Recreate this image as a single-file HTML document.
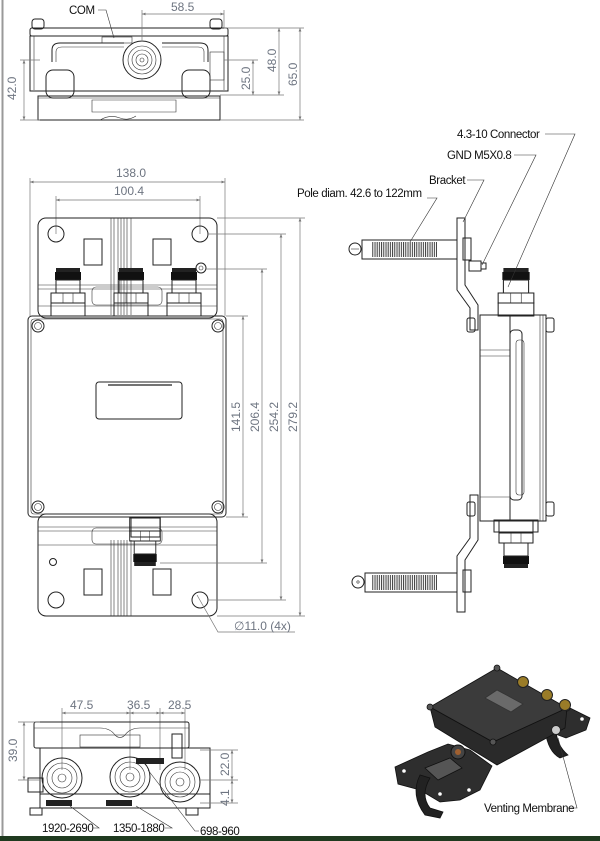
<!DOCTYPE html>
<html><head><meta charset="utf-8"><style>
html,body{margin:0;padding:0;background:#fff;}
svg{display:block;}
.l{fill:none;stroke:#222;stroke-width:1}
.t{fill:none;stroke:#333;stroke-width:0.6}
.d{fill:none;stroke:#777;stroke-width:0.7}
.dt{font-family:"Liberation Sans",sans-serif;font-size:12px;fill:#6d7480}
.lt{font-family:"Liberation Sans",sans-serif;font-size:11.5px;fill:#111;letter-spacing:-0.4px}
</style></head><body>
<svg width="600" height="841" viewBox="0 0 600 841" xmlns="http://www.w3.org/2000/svg">
<defs>
<marker id="a" viewBox="0 0 10 10" refX="10" refY="5" markerWidth="7" markerHeight="5" orient="auto-start-reverse"><path d="M0,1 L10,5 L0,9 z" fill="#777"/></marker>
<pattern id="h" width="2.2" height="4" patternUnits="userSpaceOnUse"><line x1="1" y1="0" x2="1" y2="4" stroke="#222" stroke-width="0.9"/></pattern>
<g id="conn">
<rect x="-12" y="0" width="24" height="4" fill="#222"/>
<rect x="-13" y="4" width="26" height="8" fill="#111"/>
<rect x="-12" y="12" width="24" height="13" class="l" fill="#fff"/>
<rect x="-17" y="25" width="34" height="10" class="l" fill="#fff"/>
<line x1="-5" y1="25" x2="-5" y2="35" class="t"/><line x1="5" y1="25" x2="5" y2="35" class="t"/>
<rect x="-17" y="35" width="34" height="13" class="l" fill="#fff"/>
</g>
</defs>
<line x1="2.5" y1="0" x2="2.5" y2="836" stroke="#999" stroke-width="2"/>
<rect x="0" y="836" width="600" height="5" fill="#1f3a1f"/>

<!-- TOP VIEW -->
<rect x="32" y="19" width="12" height="10" rx="3" class="l"/>
<rect x="210" y="19" width="12" height="10" rx="3" class="l"/>
<rect x="30" y="28" width="198" height="8" rx="2" class="l" stroke-width="1.4"/>
<rect x="30" y="36" width="198" height="55" class="l"/>
<line x1="34" y1="36" x2="34" y2="90" class="t"/><line x1="224" y1="36" x2="224" y2="90" class="t"/>
<rect x="102" y="37" width="30" height="6" class="t"/>
<path d="M52,62 V50 Q52,43 60,43 H124 M162,43 H200 Q208,43 208,50 V62" class="l"/>
<path d="M56,62 V52 Q56,47 62,47 H124 M162,47 H198 Q204,47 204,52 V62" class="t"/>
<rect x="46" y="70" width="28" height="28" rx="7" class="l"/>
<rect x="182" y="70" width="28" height="28" rx="7" class="l"/>
<rect x="210" y="52" width="14" height="28" class="t"/>
<circle cx="142" cy="60" r="19" class="l" stroke-width="1.3"/>
<circle cx="142" cy="60" r="14" class="t"/><circle cx="142" cy="60" r="10" class="t"/><circle cx="142" cy="60" r="6" class="t"/><circle cx="142" cy="60" r="2" class="t"/>
<rect x="38" y="96" width="182" height="24" class="l"/>
<line x1="38" y1="98" x2="220" y2="98" class="t"/>
<path d="M92,100 H176 V112 H92 Z" class="t"/>
<path d="M100,120 Q110,114 120,118 Q128,121 136,116" class="t"/>
<text x="69" y="14" class="lt">COM</text>
<path d="M98,10 H106 L114,38" class="t" stroke="#111"/>
<line x1="142" y1="40" x2="142" y2="10" class="d"/><line x1="224" y1="28" x2="224" y2="10" class="d"/>
<line x1="142" y1="14" x2="224" y2="14" class="d" marker-start="url(#a)" marker-end="url(#a)"/>
<text x="171" y="11" class="dt">58.5</text>
<line x1="20" y1="60" x2="40" y2="60" class="d"/><line x1="20" y1="120" x2="40" y2="120" class="d"/>
<line x1="24" y1="60" x2="24" y2="120" class="d" marker-start="url(#a)" marker-end="url(#a)"/>
<text transform="translate(16,100) rotate(-90)" class="dt">42.0</text>
<line x1="224" y1="60" x2="258" y2="60" class="d"/><line x1="220" y1="95" x2="284" y2="95" class="d"/>
<line x1="224" y1="28" x2="304" y2="28" class="d"/><line x1="220" y1="120" x2="304" y2="120" class="d"/>
<line x1="253" y1="60" x2="253" y2="95" class="d" marker-start="url(#a)" marker-end="url(#a)"/>
<text transform="translate(250,90) rotate(-90)" class="dt">25.0</text>
<line x1="279" y1="28" x2="279" y2="95" class="d" marker-start="url(#a)" marker-end="url(#a)"/>
<text transform="translate(276,72) rotate(-90)" class="dt">48.0</text>
<line x1="300" y1="28" x2="300" y2="120" class="d" marker-start="url(#a)" marker-end="url(#a)"/>
<text transform="translate(297,86) rotate(-90)" class="dt">65.0</text>

<!-- FRONT VIEW -->
<line x1="30" y1="178" x2="30" y2="316" class="d"/><line x1="225" y1="178" x2="225" y2="316" class="d"/>
<line x1="30" y1="182" x2="225" y2="182" class="d" marker-start="url(#a)" marker-end="url(#a)"/>
<text x="116" y="177" class="dt">138.0</text>
<line x1="56" y1="196" x2="56" y2="234" class="d"/><line x1="200" y1="196" x2="200" y2="234" class="d"/>
<line x1="56" y1="200" x2="200" y2="200" class="d" marker-start="url(#a)" marker-end="url(#a)"/>
<text x="114" y="195" class="dt">100.4</text>
<rect x="38" y="218" width="179" height="100" rx="8" class="l"/>
<rect x="38" y="514" width="179" height="102" rx="8" class="l"/>
<g class="t"><line x1="111" y1="218" x2="111" y2="315"/><line x1="114" y1="218" x2="114" y2="315"/><line x1="118" y1="218" x2="118" y2="315"/><line x1="121" y1="218" x2="121" y2="315"/><line x1="124" y1="218" x2="124" y2="315"/><line x1="127" y1="218" x2="127" y2="315"/><line x1="131" y1="218" x2="131" y2="315"/>
<line x1="111" y1="540" x2="111" y2="616"/><line x1="114" y1="540" x2="114" y2="616"/><line x1="118" y1="540" x2="118" y2="616"/><line x1="121" y1="540" x2="121" y2="616"/><line x1="124" y1="540" x2="124" y2="616"/><line x1="127" y1="540" x2="127" y2="616"/><line x1="131" y1="540" x2="131" y2="616"/>
<line x1="38" y1="285" x2="217" y2="285"/><line x1="38" y1="289" x2="217" y2="289"/><line x1="38" y1="306" x2="217" y2="306"/>
<line x1="38" y1="527" x2="217" y2="527"/><line x1="38" y1="531" x2="217" y2="531"/><line x1="38" y1="545" x2="217" y2="545"/></g>
<rect x="92" y="287" width="70" height="18" rx="4" class="t"/>
<rect x="92" y="528" width="70" height="16" rx="4" class="t"/>
<rect x="84" y="239" width="18" height="26" class="l"/><rect x="153" y="239" width="18" height="26" class="l"/>
<rect x="84" y="569" width="18" height="26" class="l"/><rect x="153" y="569" width="18" height="26" class="l"/>
<circle cx="56" cy="234" r="8" class="l"/><circle cx="200" cy="234" r="8" class="l"/>
<circle cx="56" cy="600" r="8" class="l"/><circle cx="200" cy="600" r="8" class="l"/>
<circle cx="53" cy="562" r="3.5" class="l"/>
<circle cx="201" cy="268" r="5" class="l" stroke-width="1.3"/><circle cx="201" cy="268" r="2" class="t"/>
<use href="#conn" x="68" y="268"/><use href="#conn" x="131" y="268"/><use href="#conn" x="184" y="268"/>
<g transform="translate(145,566) scale(0.9,-1)"><use href="#conn"/></g>
<rect x="28" y="316" width="198" height="201" rx="4" class="l" stroke-width="1.6" fill="#fff"/>
<rect x="31" y="319" width="192" height="195" rx="3" class="t"/>
<g class="l"><circle cx="38" cy="326" r="6"/><circle cx="218" cy="326" r="6"/><circle cx="38" cy="507" r="6"/><circle cx="218" cy="507" r="6"/></g>
<g class="t"><circle cx="38" cy="326" r="3.5"/><circle cx="218" cy="326" r="3.5"/><circle cx="38" cy="507" r="3.5"/><circle cx="218" cy="507" r="3.5"/></g>
<rect x="96" y="382" width="86" height="37" rx="3" class="l"/>
<line x1="108" y1="385" x2="172" y2="385" stroke="#222" stroke-width="1.2"/>
<rect x="131" y="517" width="29" height="20" class="l" fill="#fff"/>
<line x1="226" y1="316" x2="248" y2="316" class="d"/><line x1="226" y1="517" x2="248" y2="517" class="d"/>
<line x1="206" y1="269" x2="267" y2="269" class="d"/><line x1="160" y1="563" x2="267" y2="563" class="d"/>
<line x1="208" y1="234" x2="286" y2="234" class="d"/><line x1="208" y1="600" x2="286" y2="600" class="d"/>
<line x1="217" y1="218" x2="305" y2="218" class="d"/><line x1="217" y1="616" x2="305" y2="616" class="d"/>
<line x1="243" y1="316" x2="243" y2="517" class="d" marker-start="url(#a)" marker-end="url(#a)"/>
<line x1="262" y1="269" x2="262" y2="563" class="d" marker-start="url(#a)" marker-end="url(#a)"/>
<line x1="281" y1="234" x2="281" y2="600" class="d" marker-start="url(#a)" marker-end="url(#a)"/>
<line x1="300" y1="218" x2="300" y2="616" class="d" marker-start="url(#a)" marker-end="url(#a)"/>
<text transform="translate(240,432) rotate(-90)" class="dt">141.5</text>
<text transform="translate(259,432) rotate(-90)" class="dt">206.4</text>
<text transform="translate(278,432) rotate(-90)" class="dt">254.2</text>
<text transform="translate(297,432) rotate(-90)" class="dt">279.2</text>
<path d="M197,595 L218,632 H295" class="d"/>
<text x="234" y="630" class="dt">∅11.0 (4x)</text>

<!-- SIDE VIEW -->
<g>
<circle cx="355" cy="249" r="6" class="l"/><line x1="351" y1="249" x2="359" y2="249" class="t"/>
<rect x="362" y="240" width="95" height="19" class="l"/>
<rect x="372" y="242" width="65" height="15" fill="url(#h)"/>
<circle cx="358" cy="582" r="6" class="l"/><circle cx="358" cy="582" r="1.2" class="t"/>
<rect x="365" y="573" width="92" height="19" class="l"/>
<rect x="372" y="575" width="65" height="15" fill="url(#h)"/>
<path d="M457,218 H465 V285 L478,305 V330 H470 V308 L457,290 Z" class="l" fill="#fff"/>
<path d="M470,495 H478 V540 L465,560 V612 H457 V556 L470,538 Z" class="l" fill="#fff"/>
<rect x="463" y="238" width="8" height="22" class="l"/>
<rect x="463" y="570" width="8" height="22" class="l"/>
<rect x="469" y="261" width="12" height="10" class="l"/><rect x="481" y="263" width="5" height="6" class="l"/>
<rect x="467" y="318" width="8" height="14" rx="2" class="l"/><rect x="467" y="502" width="8" height="14" rx="2" class="l"/>
<rect x="546" y="318" width="8" height="14" rx="2" class="l"/><rect x="546" y="502" width="8" height="14" rx="2" class="l"/>
<rect x="480" y="315" width="66" height="206" class="l" fill="#fff"/>
<line x1="510" y1="315" x2="510" y2="521" class="l"/>
<line x1="480" y1="350" x2="510" y2="350" class="t"/><line x1="480" y1="356" x2="510" y2="356" class="t"/>
<line x1="480" y1="497" x2="510" y2="497" class="t"/>
<rect x="510" y="330" width="12" height="170" rx="4" class="l"/>
<rect x="516" y="340" width="8" height="155" rx="3" class="t"/>
<line x1="540" y1="315" x2="540" y2="521" class="t"/><line x1="543" y1="315" x2="543" y2="521" class="t"/>
<g transform="translate(516,268) scale(1.05,1)"><use href="#conn"/></g>
<g transform="translate(516,568) scale(1,-1)"><use href="#conn"/></g>
<rect x="494" y="520" width="44" height="12" class="l" fill="#fff"/>
</g>
<text x="457" y="138" class="lt">4.3-10 Connector</text>
<path d="M545,134 H575 L508,287" class="t" stroke="#111"/>
<text x="447" y="159" class="lt">GND M5X0.8</text>
<path d="M514,155 H536 L482,265" class="t" stroke="#111"/>
<text x="429" y="184" class="lt">Bracket</text>
<path d="M467,180 H484 L463,222" class="t" stroke="#111"/>
<text x="297" y="197" class="lt">Pole diam. 42.6 to 122mm</text>
<path d="M427,198 H437 L410,242" class="t" stroke="#111"/>

<!-- BOTTOM VIEW -->
<line x1="62" y1="708" x2="62" y2="770" class="d"/><line x1="130" y1="708" x2="130" y2="770" class="d"/>
<line x1="160" y1="708" x2="160" y2="770" class="d"/><line x1="185" y1="708" x2="185" y2="770" class="d"/>
<line x1="62" y1="713" x2="130" y2="713" class="d" marker-start="url(#a)" marker-end="url(#a)"/>
<line x1="130" y1="713" x2="160" y2="713" class="d" marker-start="url(#a)" marker-end="url(#a)"/>
<line x1="160" y1="713" x2="185" y2="713" class="d" marker-start="url(#a)" marker-end="url(#a)"/>
<text x="70" y="709" class="dt">47.5</text><text x="127" y="709" class="dt">36.5</text><text x="168" y="709" class="dt">28.5</text>
<rect x="34" y="722" width="155" height="26" rx="2" class="l"/>
<path d="M34,728 H100 Q110,728 115,735 Q120,740 125,735 Q130,728 140,728 H189" class="t"/>
<rect x="80" y="735" width="60" height="12" class="t"/>
<rect x="40" y="748" width="170" height="46" class="l"/>
<rect x="28" y="778" width="15" height="14" class="l"/>
<rect x="172" y="734" width="10" height="24" class="l"/>
<circle cx="62" cy="778" r="20" class="l" stroke-width="1.3"/><circle cx="62" cy="778" r="15" class="t"/><circle cx="62" cy="778" r="10" class="t"/><circle cx="62" cy="778" r="4" class="t"/>
<circle cx="130" cy="777" r="20" class="l" stroke-width="1.3"/><circle cx="130" cy="777" r="15" class="t"/><circle cx="130" cy="777" r="10" class="t"/><circle cx="130" cy="777" r="4" class="t"/>
<circle cx="180" cy="782" r="20" class="l" stroke-width="1.3"/><circle cx="180" cy="782" r="15" class="t"/><circle cx="180" cy="782" r="10" class="t"/><circle cx="180" cy="782" r="4" class="t"/>
<rect x="40" y="794" width="170" height="14" class="l"/>
<rect x="46" y="800" width="26" height="6" fill="#222"/><rect x="106" y="800" width="26" height="6" fill="#222"/>
<rect x="136" y="758" width="28" height="6" fill="#222"/>
<rect x="30" y="808" width="12" height="7" class="l"/><rect x="186" y="808" width="12" height="7" class="l"/>
<line x1="18" y1="722" x2="40" y2="722" class="d"/><line x1="18" y1="780" x2="40" y2="780" class="d"/>
<line x1="24" y1="722" x2="24" y2="780" class="d" marker-start="url(#a)" marker-end="url(#a)"/>
<text transform="translate(17,762) rotate(-90)" class="dt">39.0</text>
<line x1="200" y1="750" x2="238" y2="750" class="d"/><line x1="200" y1="780" x2="238" y2="780" class="d"/><line x1="200" y1="803" x2="238" y2="803" class="d"/>
<line x1="232" y1="750" x2="232" y2="780" class="d" marker-start="url(#a)" marker-end="url(#a)"/>
<line x1="232" y1="780" x2="232" y2="803" class="d" marker-start="url(#a)" marker-end="url(#a)"/>
<text transform="translate(229,776) rotate(-90)" class="dt">22.0</text>
<text transform="translate(229,806) rotate(-90)" class="dt">4.1</text>
<text x="42" y="832" class="lt">1920-2690</text>
<path d="M93,828 H99 L70,806" class="t" stroke="#111"/>
<text x="113" y="832" class="lt">1350-1880</text>
<path d="M165,828 H172 L136,806" class="t" stroke="#111"/>
<text x="200" y="835" class="lt">698-960</text>
<path d="M199,831 H195 L148,770" class="t" stroke="#111"/>

<!-- 3D VIEW -->
<g stroke="#111" stroke-width="0.8">
<!-- left bracket plate -->
<path d="M395,767 L428,752 L448,744 L470,750 L492,766 L480,790 L460,800 L440,802 L420,790 L398,784 Z" fill="#2e2e2e"/>
<!-- right bracket plate -->
<path d="M548,712 L570,708 L590,718 L586,730 L566,738 L550,732 Z" fill="#2e2e2e"/>
<!-- clamps -->
<path d="M420,775 Q410,795 425,815 L440,818 L443,812 L430,808 Q420,795 430,778 Z" fill="#222"/>
<path d="M545,730 Q548,752 560,758 L568,755 Q556,745 556,728 Z" fill="#222"/>
<path d="M425,768 L450,758 L462,768 L438,780 Z" fill="#555"/>
<!-- box sides -->
<path d="M430,707 L493,742 L567,708 L565,728 L497,765 L435,727 Z" fill="#2a2a2a"/>
<!-- box top -->
<path d="M497,668 L567,708 L493,742 L430,707 Z" fill="#3b3b3b"/>
<path d="M485,698 L497,690 L523,704 L511,712 Z" fill="#6a6a6a" stroke="#333"/>
<circle cx="497" cy="668" r="3" fill="#555"/><circle cx="430" cy="707" r="3" fill="#555"/><circle cx="567" cy="708" r="3" fill="#555"/><circle cx="493" cy="742" r="3" fill="#555"/>
</g>
<circle cx="523" cy="682" r="5.5" fill="#9a7c28" stroke="#222"/><circle cx="547" cy="695" r="5.5" fill="#9a7c28" stroke="#222"/><circle cx="565" cy="705" r="5.5" fill="#9a7c28" stroke="#222"/>
<circle cx="458" cy="752" r="7" fill="#444" stroke="#111"/><circle cx="458" cy="752" r="3" fill="#a06030"/>
<circle cx="556" cy="730" r="4.5" fill="#ccc" stroke="#222"/>
<circle cx="404" cy="771" r="1.8" fill="#fff"/><circle cx="440" cy="794" r="1.8" fill="#fff"/><circle cx="582" cy="719" r="1.8" fill="#fff"/><circle cx="469" cy="790" r="1.8" fill="#fff"/>
<text x="484" y="812" class="lt">Venting Membrane</text>
<path d="M567,808 H577 L558,738" class="t" stroke="#111"/>
</svg>
</body></html>
